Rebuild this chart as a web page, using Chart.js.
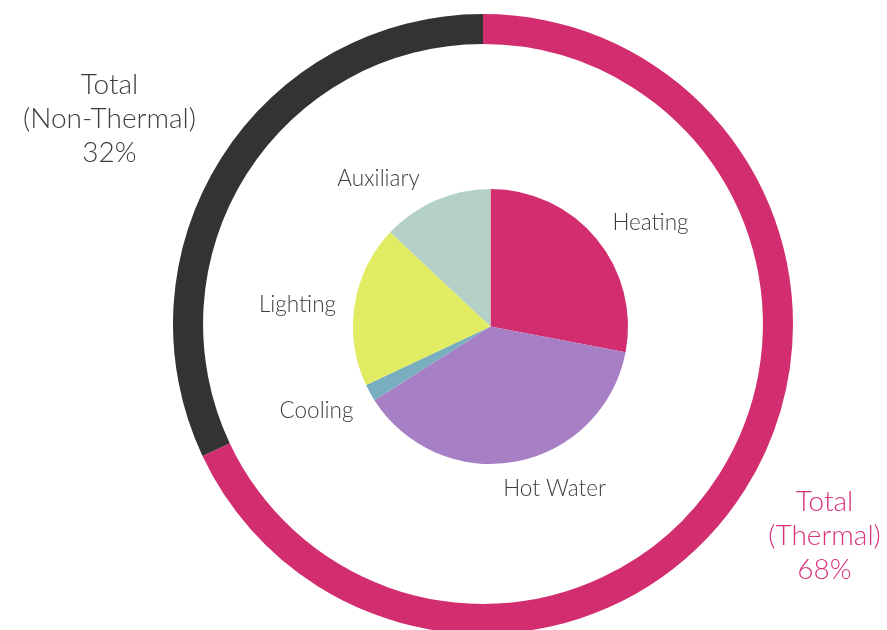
<!DOCTYPE html>
<html>
<head>
<meta charset="utf-8">
<script src="https://cdn.jsdelivr.net/npm/chart.js@4.4.0/dist/chart.umd.min.js"></script>
<style>
    html, body { margin: 0; padding: 0; background: #fff; }
    #stage { position: relative; width: 887px; height: 630px; overflow: hidden; }
    #ringBox { position: absolute; left: 173px; top: 14px; width: 620px; height: 620px; }
    #pieChart { position: absolute; left: 0; top: 0; }
</style>
</head>
<body>
<div id="stage">
    <div id="ringBox"><canvas id="ringChart" width="620" height="620"></canvas></div>
    <canvas id="pieChart" width="887" height="630"></canvas>
</div>
<script>
// Energy use split
const uses = ['Heating', 'Hot Water', 'Cooling', 'Lighting', 'Auxiliary'];
const useShares = [28, 38, 2, 19, 13];
const useColors = ['#d22d6e', '#a67fc5', '#79aebf', '#e2ec62', '#b5d0c7'];

const groups = ['Total\n(Thermal)\n68%', 'Total\n(Non-Thermal)\n32%'];
const groupShares = [68, 32];
const groupColors = ['#d22d6e', '#333333'];

const FONT = 'Lato, "Open Sans", sans-serif';

// outer ring: thermal vs non-thermal
new Chart(document.getElementById('ringChart'), {
    type: 'doughnut',
    data: {
        labels: groups,
        datasets: [{
            data: groupShares,
            backgroundColor: groupColors,
            borderWidth: 0
        }]
    },
    options: {
        responsive: false,
        animation: false,
        cutout: '90.3%',
        layout: { padding: 0 },
        plugins: { legend: { display: false }, tooltip: { enabled: false } }
    }
});

// text placement relative to the pie centre (middle line for the totals)
const sliceLabelPos = [
    [160, -104],   // Heating
    [64, 162],     // Hot Water
    [-174, 84],    // Cooling
    [-193, -22],   // Lighting
    [-112, -148]   // Auxiliary
];
const groupLabelPos = [
    [334, 209],    // thermal
    [-381, -208]   // non-thermal
];

const labelPlugin = {
    id: 'labelPlugin',
    afterDraw(chart) {
        const ctx = chart.ctx;
        const arc = chart.getDatasetMeta(0).data[0];
        const cx = arc.x, cy = arc.y;
        ctx.save();
        ctx.textAlign = 'center';
        ctx.textBaseline = 'middle';

        ctx.font = '300 22.5px ' + FONT;
        ctx.fillStyle = '#3d3d3d';
        uses.forEach((name, i) => {
            const [dx, dy] = sliceLabelPos[i];
            ctx.fillText(name, cx + dx, cy + dy);
        });

        ctx.font = '300 28px ' + FONT;
        groups.forEach((txt, i) => {
            const [dx, dy] = groupLabelPos[i];
            ctx.fillStyle = i === 0 ? '#d6337a' : '#3d3d3d';
            txt.split('\n').forEach((line, j) => {
                ctx.fillText(line, cx + dx, cy + dy + (j - 1) * 34);
            });
        });
        ctx.restore();
    }
};

// inner pie: breakdown by use
new Chart(document.getElementById('pieChart'), {
    type: 'pie',
    data: {
        labels: uses,
        datasets: [{
            data: useShares,
            backgroundColor: useColors,
            borderWidth: 0
        }]
    },
    options: {
        responsive: false,
        animation: false,
        layout: { padding: { left: 353, top: 189, right: 259, bottom: 166 } },
        plugins: { legend: { display: false }, tooltip: { enabled: false } }
    },
    plugins: [labelPlugin]
});
</script>
</body>
</html>
